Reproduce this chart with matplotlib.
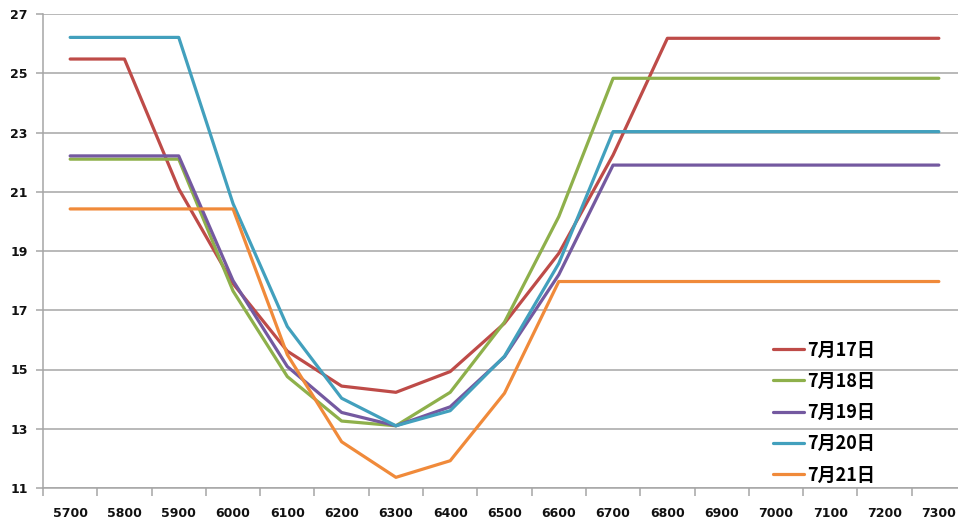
import numpy as np
import matplotlib.pyplot as plt
from matplotlib.ticker import FixedLocator

# Données
strikes = [5700, 5800, 5900, 6000, 6100, 6200, 6300, 6400, 6500,
           6600, 6700, 6800, 6900, 7000, 7100, 7200, 7300]

jul17 = [25.48, 25.48, 21.1, 17.9, 15.62, 14.44, 14.23, 14.93, 16.56,
         18.92, 22.24, 26.18, 26.18, 26.18, 26.18, 26.18, 26.18]
jul18 = [22.1, 22.1, 22.1, 17.65, 14.76, 13.26, 13.1, 14.23, 16.6,
         20.16, 24.83, 24.83, 24.83, 24.83, 24.83, 24.83, 24.83]
jul19 = [22.21, 22.21, 22.21, 18.0, 15.1, 13.55, 13.1, 13.74, 15.43,
         18.2, 21.9, 21.9, 21.9, 21.9, 21.9, 21.9, 21.9]
jul20 = [26.21, 26.21, 26.21, 20.6, 16.45, 14.03, 13.1, 13.61, 15.45,
         18.58, 23.03, 23.03, 23.03, 23.03, 23.03, 23.03, 23.03]
jul21 = [20.42, 20.42, 20.42, 20.42, 15.5, 12.56, 11.36, 11.92, 14.2,
         17.97, 17.97, 17.97, 17.97, 17.97, 17.97, 17.97, 17.97]

series = [("7月17日", jul17, "#BE4B48"),
          ("7月18日", jul18, "#8EB04B"),
          ("7月19日", jul19, "#7459A0"),
          ("7月20日", jul20, "#42A0BD"),
          ("7月21日", jul21, "#F08A3A")]

fig = plt.figure(figsize=(9.58, 5.26), dpi=100)
# l'axe dépasse un peu à droite, comme sur l'original
ax = fig.add_axes([43/958, 1-488/526, 923/958, 474/526])

x = np.arange(len(strikes))
for nom, vals, couleur in series:
    ax.plot(x, vals, color=couleur, lw=2.3, label=nom, solid_capstyle='round')

ax.set_xlim(-0.5, len(strikes) - 0.5)
ax.set_ylim(11, 27)
ax.set_yticks(np.arange(11, 28, 2))
ax.set_xticks(x)
ax.set_xticklabels([str(s) for s in strikes])
ax.xaxis.set_minor_locator(FixedLocator(np.arange(-0.5, len(strikes), 1)))

ax.grid(axis='y', color='#A6A6A6', lw=1.1)
ax.set_axisbelow(True)
for cote in ['top', 'right']:
    ax.spines[cote].set_visible(False)
for cote in ['left', 'bottom']:
    ax.spines[cote].set_color('#A6A6A6')
    ax.spines[cote].set_linewidth(1.1)

ax.tick_params(axis='x', which='major', length=0, pad=14)
ax.tick_params(axis='x', which='minor', length=6, color='#A6A6A6', width=1.1)
ax.tick_params(axis='y', length=5, color='#A6A6A6', width=1.1, pad=6)
for lab in ax.get_xticklabels() + ax.get_yticklabels():
    lab.set_fontweight('bold')
    lab.set_fontsize(9)
    lab.set_color('#111111')

leg = ax.legend(loc='center left', bbox_to_anchor=(773/958, 1-412.5/526),
                bbox_transform=fig.transFigure, frameon=False,
                borderpad=0, borderaxespad=0, handlelength=1.7,
                handletextpad=0.2, labelspacing=0.68,
                prop={'family': ['Noto Sans CJK SC', 'DejaVu Sans'],
                      'weight': 'bold', 'size': 13})

fig.savefig('out.png', dpi=100)
